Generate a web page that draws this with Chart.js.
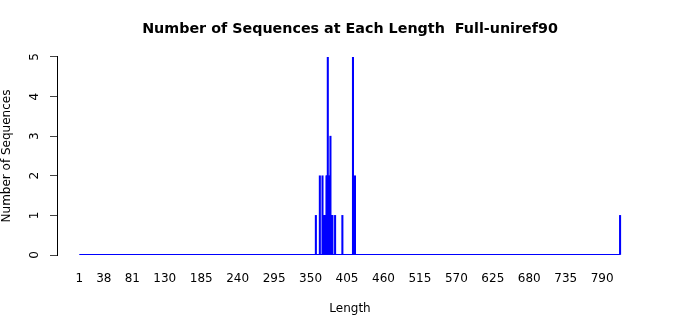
<!doctype html>
<html><head><meta charset="utf-8">
<title>Number of Sequences at Each Length</title>
<script src="https://cdn.jsdelivr.net/npm/chart.js"></script>
<style>
  html, body { margin: 0; padding: 0; background: #fff; }
  #wrap { width: 700px; height: 315px; }
</style>
</head><body>
<div id="wrap"><canvas id="lenChart" width="700" height="315"></canvas></div>
<script>
  // sequence lengths that have at least one sequence, and how many
  const lengths = [358, 364, 368, 370, 371, 372, 373, 374, 375, 376, 377, 378, 379, 380, 381, 382, 383, 387, 398, 414, 417, 817];
  const counts  = [1,   2,   2,   1,   1,   1,   1,   2,   2,   5,   2,   1,   2,   3,   1,   1,   1,   1,   1,   5,   2,   1];
  const lengthRange = [1, 817];
  const xTickLabels = [1, 38, 81, 130, 185, 240, 295, 350, 405, 460, 515, 570, 625, 680, 735, 790];
  const yTickLabels = [0, 1, 2, 3, 4, 5];

  const font = 'DejaVu Sans';
  const bars = lengths.map((l, i) => ({ x: l, y: counts[i] }));
  const baseline = lengthRange.map(l => ({ x: l, y: 0 }));

  new Chart(document.getElementById('lenChart'), {
    data: {
      datasets: [
        // zero-height bars across the whole length range: a thin line, clipped at the plot bottom
        { type: 'line', data: baseline, borderColor: '#0000ff', borderWidth: 2,
          pointRadius: 0, tension: 0, order: 2,
          clip: { left: 5, right: 5, top: 5, bottom: 0 } },
        { type: 'bar', data: bars, backgroundColor: '#0000ff', borderWidth: 0,
          barThickness: 1.4, grouped: false, order: 1 }
      ]
    },
    options: {
      responsive: false,
      animation: false,
      layout: { padding: 0 },
      plugins: {
        legend: { display: false },
        tooltip: { enabled: false },
        title: {
          display: true,
          text: 'Number of Sequences at Each Length  Full-uniref90',
          color: '#000',
          font: { family: font, size: 14.3, weight: 'bold' },
          padding: { top: 20.6, bottom: 19.2 }
        }
      },
      scales: {
        x: {
          type: 'linear', min: -32.6, max: 851.6, offset: false,
          afterBuildTicks: s => { s.ticks = xTickLabels.map(v => ({ value: v })); },
          afterFit: s => { s.height = 60; },
          grid: { display: false, drawTicks: false },
          border: { display: false },
          ticks: { color: '#000', font: { family: font, size: 12 }, padding: 17,
                   autoSkip: false, maxRotation: 0, callback: v => String(v) },
          title: { display: true, text: 'Length', color: '#000',
                   font: { family: font, size: 12 }, padding: { top: 0, bottom: -1 } }
        },
        y: {
          min: 0, max: 5,
          afterBuildTicks: s => { s.ticks = yTickLabels.map(v => ({ value: v })); },
          afterFit: s => { s.width = 57; },
          grid: { display: true, drawOnChartArea: false, drawTicks: true, tickLength: 7,
                  color: '#444', tickWidth: 1 },
          border: { display: true, color: '#000', width: 1 },
          ticks: { color: '#000', font: { family: font, size: 12 }, padding: 11.5,
                   minRotation: 90, maxRotation: 90, crossAlign: 'center' },
          title: { display: true, text: 'Number of Sequences', color: '#000',
                   font: { family: font, size: 12 }, padding: { top: 0, bottom: 0 } }
        },
        // empty right margin so the plot sits centred under the title
        yRight: {
          position: 'right', display: true,
          afterFit: s => { s.width = 57; },
          grid: { display: false, drawTicks: false },
          border: { display: false },
          ticks: { display: false }
        }
      }
    }
  });
</script>
</body></html>
